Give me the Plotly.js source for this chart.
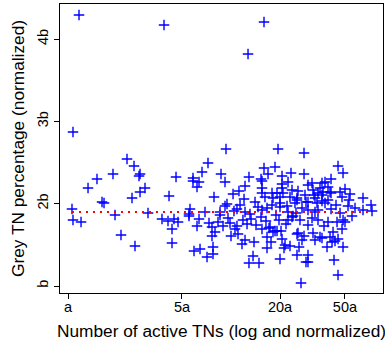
<!DOCTYPE html>
<html>
<head>
<meta charset="utf-8">
<script src="https://cdn.plot.ly/plotly-3.0.1.min.js"></script>
<style>html,body{margin:0;padding:0;background:#fff;}#chart{width:385px;height:345px;}</style>
</head>
<body>
<div id="chart"></div>
<script>
// Number of active TNs (log, normalized)
const activeTNs = [
1.168,1.073,3.882,15.94,12.72,1.327,1.506,1.888,2.301,2.541,
2.766,2.727,2.968,2.766,2.470,1.617,1.663,1.058,1.073,1.202,
1.943,2.114,2.576,3.096,4.166,4.599,3.773,4.107,4.470,4.730,
4.345,4.345,5.525,5.604,5.525,5.847,5.847,6.364,6.187,6.639,
7.226,6.364,6.187,7.328,8.323,7.865,7.977,7.645,7.755,7.755,
5.929,6.455,7.125,6.927,8.684,9.188,9.318,19.43,28.05,45.35,
48.67,12.89,12.19,11.19,10.29,12.02,9.452,11.36,15.94,16.87,
18.62,15.28,15.49,15.49,16.16,14.04,14.65,8.561,10.43,12.19,
15.49,16.63,17.85,18.10,17.85,20.56,23.34,28.05,22.38,20.56,
23.67,25.76,29.67,31.41,37.73,41.08,35.16,39.37,50.05,46.65,
53.73,47.98,52.97,64.54,72.28,73.30,64.54,19.15,19.98,20.84,
23.01,25.40,28.44,32.30,34.18,36.16,40.50,29.67,33.69,37.73,
39.37,24.69,22.06,19.98,27.26,29.67,41.08,22.38,32.75,8.932,
9.860,10.88,10.58,10.00,11.04,12.19,11.68,13.84,13.65,12.89,
14.85,11.84,13.27,15.28,16.39,15.49,17.11,16.63,16.63,17.60,
18.10,19.70,19.15,20.56,21.45,19.98,23.01,25.40,26.13,25.76,
29.67,29.67,28.85,26.88,31.84,32.75,36.16,38.82,40.50,43.46,
42.26,47.98,48.67,42.86,45.35,48.67,50.05,34.18,39.37,44.71,
22.38,24.01,26.50,29.67,8.561,7.645,14.24,17.35,18.62,20.27,
25.40,27.26,28.05,35.16,41.67,21.14,45.35,31.84,36.16,41.08,
36.68,20.56,15.49,10.88,9.188,19.98,25.40,28.85,32.75,36.16,
34.18,23.67,31.41,13.08,18.88,25.05,46.65,55.25,57.65,52.22,
9.585,12.54,44.08,21.75,37.21
];
// Grey TN percentage (normalized)
const greyPct = [
4.293,2.871,4.171,4.208,3.819,2.191,2.300,2.361,2.543,2.458,
2.361,2.337,2.191,2.142,2.069,2.021,2.009,1.936,1.802,1.778,
1.863,1.620,1.486,1.887,2.094,2.324,1.814,1.790,1.814,1.778,
1.693,1.522,1.851,1.936,1.875,2.312,2.276,2.264,2.203,2.385,
2.494,1.814,1.729,1.765,1.778,2.081,1.656,1.608,1.474,1.389,
1.425,1.450,1.352,1.899,2.361,2.264,2.665,2.665,2.616,2.458,
2.373,2.324,2.215,2.154,2.118,2.057,1.996,1.984,2.434,2.361,
2.446,2.300,2.191,2.130,2.081,2.021,1.960,1.899,1.911,1.899,
1.923,1.948,1.984,2.069,2.130,2.337,2.373,2.361,2.264,2.191,
2.166,2.154,2.227,2.252,2.264,2.300,2.191,2.203,2.179,2.142,
2.118,2.081,2.045,2.069,1.984,1.911,1.923,2.130,2.081,2.130,
2.081,2.069,2.106,2.106,2.130,2.106,2.142,2.021,2.009,2.009,
2.045,2.009,1.972,1.960,1.948,1.923,1.936,1.899,1.899,1.729,
1.765,1.729,1.693,1.608,1.632,1.559,1.510,1.535,1.365,1.279,
1.279,1.802,1.814,1.838,1.790,1.693,1.705,1.595,1.462,1.535,
1.656,1.802,1.668,1.571,1.498,1.328,1.486,1.377,1.474,1.644,
1.377,1.292,1.292,1.036,1.644,1.559,1.583,1.474,1.595,1.547,
1.656,1.693,1.474,1.316,1.134,1.802,1.778,1.802,1.778,1.778,
1.802,1.851,1.802,1.741,1.863,1.717,1.741,1.717,1.668,1.668,
1.632,1.559,1.608,1.595,1.535,1.462,1.571,2.166,2.252,2.130,
2.142,2.239,2.276,1.936,1.972,2.009,2.045,2.021,2.069,2.033,
1.923,1.838,1.826,1.875,1.863,1.887,1.887,1.851,1.948,1.972,
1.826,1.753,1.984,1.753,1.729
];
const refLevel = 1.9;
const xTickVals = [1, 5, 20, 50];
const xTickText = ['a', '5a', '20a', '50a'];
const yTickVals = [1, 2, 3, 4];
const yTickText = ['b', '2b', '3b', '4b'];

const xMin = Math.min(...activeTNs), xMax = Math.max(...activeTNs);

const font = 'Liberation Sans, Arial, Helvetica, sans-serif';
const traces = [
  {
    x: activeTNs, y: greyPct, type: 'scatter', mode: 'markers',
    marker: {symbol: 'cross-thin', size: 7.5, color: '#0000ff', line: {color: '#0000ff', width: 1.4}},
    hoverinfo: 'skip', showlegend: false
  },
  {
    x: [xMin, xMax], y: [refLevel, refLevel], type: 'scatter', mode: 'lines',
    line: {color: '#ff0000', width: 2, dash: '2px,5px'},
    hoverinfo: 'skip', showlegend: false
  }
];
const layout = {
  width: 385, height: 345,
  margin: {l: 60, r: 2, t: 4, b: 52},
  paper_bgcolor: '#fff', plot_bgcolor: '#fff',
  font: {family: font, color: '#000', size: 12},
  showlegend: false,
  xaxis: {
    type: 'log', range: [-0.0491, 1.9325],
    tickvals: xTickVals, ticktext: xTickText,
    ticks: 'outside', ticklen: 5, tickcolor: '#000', tickwidth: 1,
    ticklabelstandoff: -4,
    showline: true, mirror: true, linecolor: '#000', linewidth: 1,
    showgrid: false, zeroline: false,
    tickfont: {size: 14.5, family: font},
    title: {text: 'Number of active TNs (log and normalized)', font: {size: 17.3, family: font}, standoff: 10}
  },
  yaxis: {
    range: [0.915, 4.4265],
    tickvals: yTickVals, ticktext: yTickText, tickangle: -90,
    ticks: 'outside', ticklen: 5, tickcolor: '#000', tickwidth: 1,
    showline: true, mirror: true, linecolor: '#000', linewidth: 1,
    showgrid: false, zeroline: false,
    tickfont: {size: 14.5, family: font},
    title: {text: 'Grey TN percentage (normalized)', font: {size: 17.3, family: font}, standoff: 6}
  }
};
Plotly.newPlot('chart', traces, layout, {displayModeBar: false, staticPlot: true});
</script>
</body>
</html>
